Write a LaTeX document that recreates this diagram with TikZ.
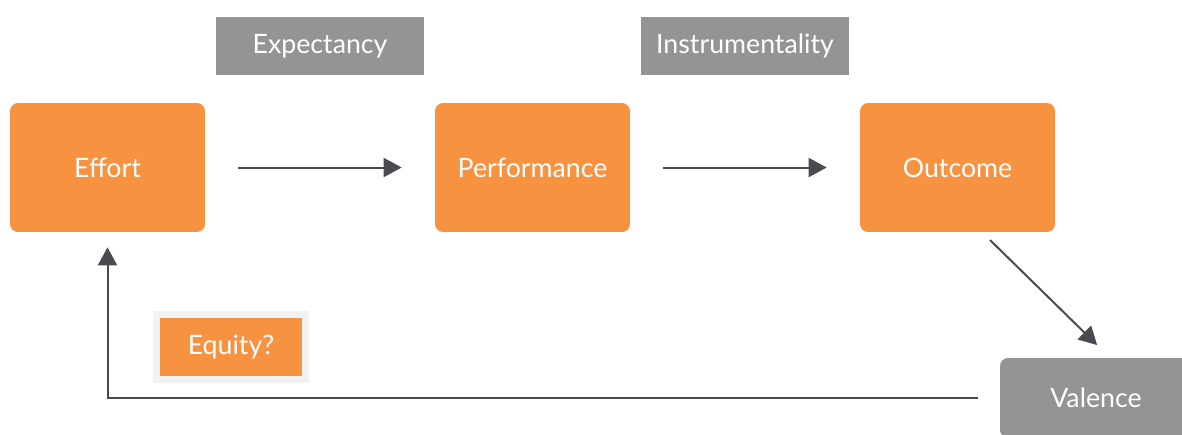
\documentclass[tikz,border=0pt]{standalone}
\usepackage{fontspec}
\setmainfont{Lato}
\usetikzlibrary{arrows.meta,positioning}
\definecolor{vroom}{RGB}{247,146,65}
\definecolor{vgray}{RGB}{147,148,150}
\definecolor{vframe}{RGB}{242,242,242}
\definecolor{varrow}{RGB}{74,75,80}
\tikzset{
	stage/.style={fill=vroom,text=white,rounded corners=0.16cm,minimum width=3.9cm,minimum height=2.58cm,inner sep=0pt,font=\fontsize{15.2}{17}\selectfont},
	factor/.style={fill=vgray,text=white,minimum width=4.16cm,minimum height=1.16cm,inner sep=0pt,font=\fontsize{15.2}{17}\selectfont},
	flow/.style={draw=varrow,line width=0.04cm,-{Triangle[length=0.36cm,width=0.38cm]}}
}
\begin{document}
\begin{tikzpicture}[x=0.02cm,y=-0.02cm]
						\clip (0,0) rectangle (1182,434);
						\fill[white] (0,0) rectangle (1182,434);

						\node[stage] (effort) at (107.5,167.5) {Effort};
						\node[stage] (performance) at (532.5,167.5) {Performance};
						\node[stage] (outcome) at (957.5,167.5) {Outcome};

						\node[factor] (expectancy) at (320,46) {Expectancy};
						\node[factor] (instrumentality) at (745,46) {Instrumentality};
						\node[factor,rounded corners=0.16cm,minimum width=3.84cm,minimum height=1.6cm] (valence) at (1096,398) {Valence};

						\node[fill=vroom,draw=vframe,line width=0.14cm,text=white,minimum width=2.98cm,minimum height=1.3cm,inner sep=0pt,font=\fontsize{15.2}{17}\selectfont] (equity) at (231,347) {Equity?};

						\coordinate (turn) at (990,240);
						\draw[flow,shorten <=0.66cm,shorten >=0.66cm] (effort) -- (performance);
						\draw[flow,shorten <=0.66cm,shorten >=0.66cm] (performance) -- (outcome);
						\draw[flow,shorten >=0.36cm] (turn) -- ([xshift=0.28cm]valence.north);
						\draw[flow,shorten <=0.44cm,shorten >=0.3cm] (valence.west) -| (effort.south);
					\end{tikzpicture}
\end{document}
